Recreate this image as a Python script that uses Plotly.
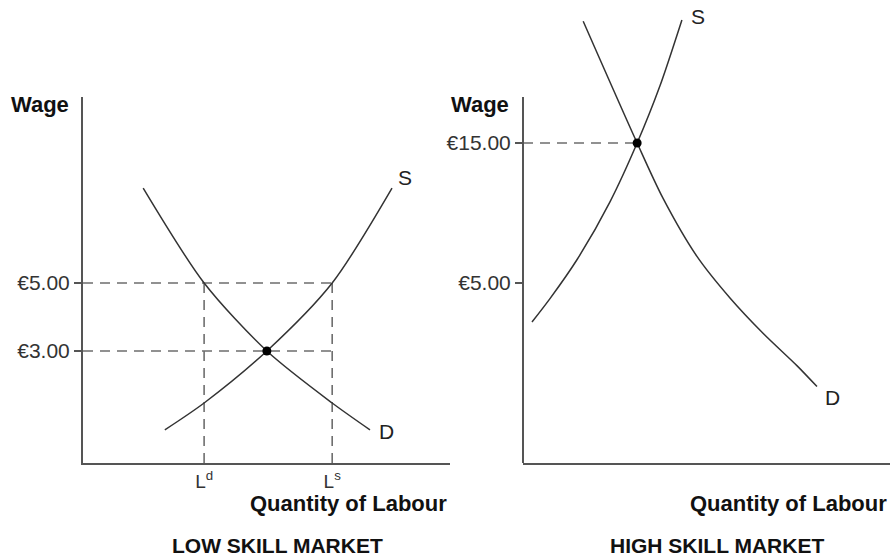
import plotly.graph_objects as go

W, H = 890, 560
FONT = "Liberation Sans, Arial, Helvetica, sans-serif"
CURVE = "#333333"
AXIS = "#555555"
DASH = "#6e6e6e"

# ---------------- data: LOW SKILL MARKET ----------------
low_demand_q = [1.64, 3.30, 5.01, 6.79, 7.82]
low_demand_w = [7.79, 5.00, 3.00, 1.47, 0.68]
low_supply_q = [2.23, 3.30, 5.01, 6.79, 8.42]
low_supply_w = [0.68, 1.47, 3.00, 5.00, 7.79]
low_eq_q, low_eq_w = 5.01, 3.00
low_Ld, low_Ls = 3.30, 6.79
low_wage_ticks = [3, 5]
low_wage_labels = ["€3.00", "€5.00"]
low_q_labels = ["L<sup>d</sup>", "L<sup>s</sup>"]

# ---------------- data: HIGH SKILL MARKET ----------------
high_demand_q = [1.64, 3.11, 3.81, 4.74, 5.64, 6.54, 7.47, 8.01]
high_demand_w = [23.7, 15.0, 11.08, 6.9, 3.93, 1.41, -0.92, -2.4]
high_supply_q = [0.245, 0.74, 1.47, 2.37, 3.11, 3.73, 4.33]
high_supply_w = [2.21, 3.9, 6.66, 10.8, 15.0, 19.07, 23.79]
high_eq_q, high_eq_w = 3.11, 15.0
high_wage_ticks = [5, 15]
high_wage_labels = ["€5.00", "€15.00"]

def px(x):
    return x / W

def py(y):
    return (H - y) / H

low_y_range = [-0.294, 10.47]
high_y_range = [-7.857, 25.214]

fig = go.Figure()

def curve(q, w, xa, ya):
    fig.add_trace(go.Scatter(x=q, y=w, mode="lines",
                             line=dict(color=CURVE, width=1.5, shape="spline", smoothing=0.8),
                             xaxis=xa, yaxis=ya, hoverinfo="skip"))

def dashed(q, w, xa, ya):
    fig.add_trace(go.Scatter(x=q, y=w, mode="lines", line=dict(color=DASH, width=1.6, dash="10px,7px"),
                             xaxis=xa, yaxis=ya, hoverinfo="skip"))

# low skill dashed guides
dashed([0, low_Ls], [low_wage_ticks[1], low_wage_ticks[1]], "x", "y")
dashed([0, low_Ls], [low_wage_ticks[0], low_wage_ticks[0]], "x", "y")
dashed([low_Ld, low_Ld], [low_y_range[0], low_wage_ticks[1]], "x", "y")
dashed([low_Ls, low_Ls], [low_y_range[0], low_wage_ticks[1]], "x", "y")
curve(low_demand_q, low_demand_w, "x", "y")
curve(low_supply_q, low_supply_w, "x", "y")
fig.add_trace(go.Scatter(x=[low_eq_q], y=[low_eq_w], mode="markers", marker=dict(color="black", size=9),
                         xaxis="x", yaxis="y", hoverinfo="skip"))

# high skill
dashed([0, high_eq_q], [high_eq_w, high_eq_w], "x2", "y2")
curve(high_demand_q, high_demand_w, "x2", "y2")
curve(high_supply_q, high_supply_w, "x2", "y2")
fig.add_trace(go.Scatter(x=[high_eq_q], y=[high_eq_w], mode="markers", marker=dict(color="black", size=9),
                         xaxis="x2", yaxis="y2", hoverinfo="skip"))

tickfont = dict(family=FONT, size=21, color="#333")

fig.update_layout(
    width=W, height=H, autosize=False,
    margin=dict(l=0, r=0, t=0, b=0),
    paper_bgcolor="white", plot_bgcolor="white",
    showlegend=False,
    xaxis=dict(domain=[px(83), px(450)], range=[0, 10], showline=True, linecolor=AXIS, linewidth=2,
               showgrid=False, zeroline=False, tickvals=[low_Ld, low_Ls], ticktext=low_q_labels,
               ticks="", tickfont=dict(family=FONT, size=19, color="#333"), anchor="y", fixedrange=True),
    yaxis=dict(domain=[py(463), py(97)], range=low_y_range, showline=True, linecolor=AXIS, linewidth=2,
               showgrid=False, zeroline=False, tickvals=low_wage_ticks, ticktext=low_wage_labels,
               ticks="outside", ticklen=7, tickwidth=1.5, tickcolor=AXIS, tickfont=tickfont, anchor="x",
               fixedrange=True),
    xaxis2=dict(domain=[px(523), 1.0], range=[0, 10], showline=True, linecolor=AXIS, linewidth=2,
                showgrid=False, zeroline=False, showticklabels=False, ticks="", anchor="y2", fixedrange=True),
    yaxis2=dict(domain=[py(463), 1.0], range=high_y_range, showline=False,
                showgrid=False, zeroline=False, tickvals=high_wage_ticks, ticktext=high_wage_labels,
                ticks="outside", ticklen=7, tickwidth=1.5, tickcolor=AXIS, tickfont=tickfont, anchor="x2",
                fixedrange=True),
)

# right-hand vertical axis line (stops below the top of the curves)
fig.add_shape(type="line", xref="paper", yref="paper", x0=px(523), x1=px(523), y0=py(463), y1=py(97),
              line=dict(color=AXIS, width=2))

def ann(text, x, y, xanchor, size, bold=False, xref="paper", yref="paper", color="#111"):
    fig.add_annotation(text=f"<b>{text}</b>" if bold else text, x=x, y=y, xref=xref, yref=yref,
                       xanchor=xanchor, yanchor="middle", showarrow=False,
                       font=dict(family=FONT, size=size, color=color))

ann("Wage", px(71), py(104), "right", 22, bold=True)
ann("Wage", px(511), py(104), "right", 22, bold=True)
ann("Quantity of Labour", px(449), py(503), "right", 22, bold=True)
ann("Quantity of Labour", px(889), py(503), "right", 22, bold=True)
ann("LOW SKILL MARKET", px(277), py(545), "center", 21, bold=True)
ann("HIGH SKILL MARKET", px(717), py(545), "center", 21, bold=True)

# curve labels
ann("S", 8.77, 8.09, "center", 21, xref="x", yref="y", color="#222")
ann("D", 8.26, 0.62, "center", 21, xref="x", yref="y", color="#222")
ann("S", 4.77, 24.07, "center", 21, xref="x2", yref="y2", color="#222")
ann("D", 8.42, -3.21, "center", 21, xref="x2", yref="y2", color="#222")

fig.write_html("out.html", config={"displayModeBar": False},
               post_script="document.body.style.margin='0';document.body.style.overflow='hidden';")
